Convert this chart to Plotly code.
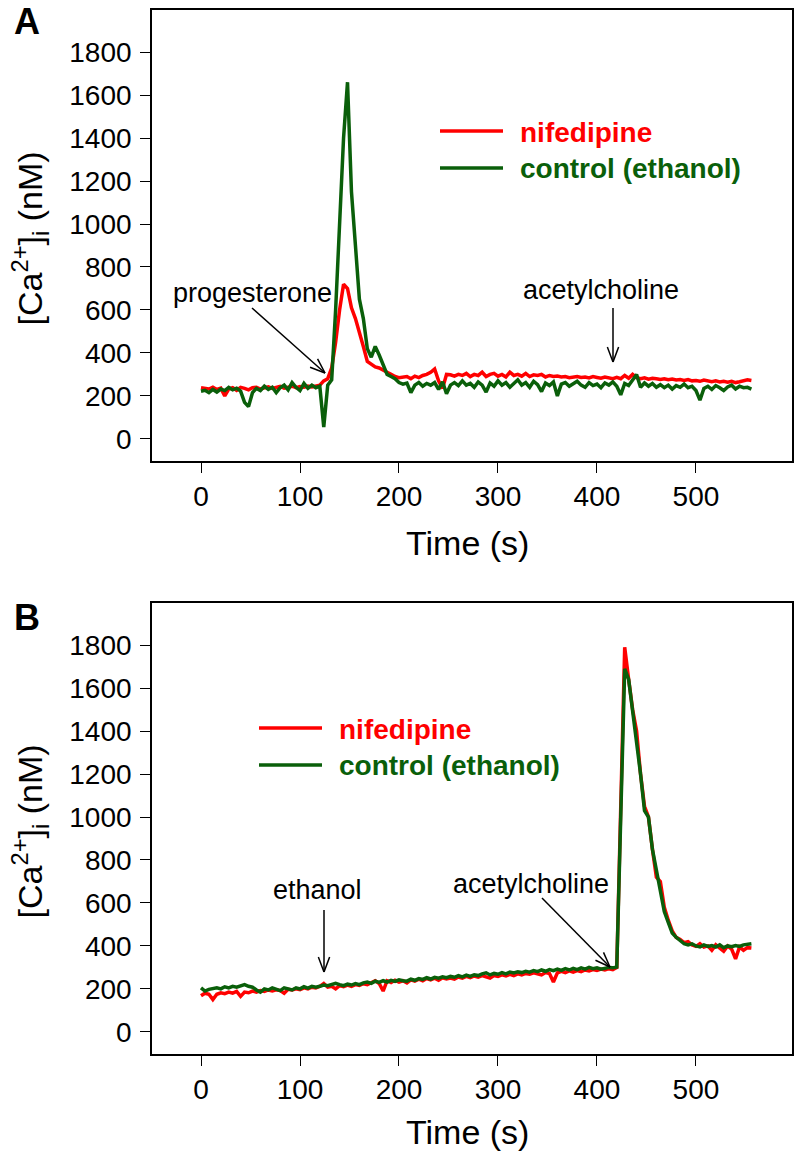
import math
import plotly.graph_objects as go

W, H = 796, 1154

# ---------------- data ----------------
step_s = 4  # sampling interval of the traces (s)

a_nifedipine = [238, 236, 232, 240, 230, 236, 200, 232, 238, 226, 240, 235, 228, 238, 240, 232,
                236, 242, 235, 238, 244, 236, 240, 245, 238, 244, 240, 246, 242, 248, 250, 270,
                280, 330, 450, 600, 720, 700, 610, 560, 500, 430, 360, 345, 335, 330, 318, 310,
                300, 290, 285, 288, 290, 280, 292, 285, 295, 300, 310, 325, 270, 235, 300, 298,
                292, 300, 295, 305, 290, 300, 295, 310, 290, 300, 305, 292, 300, 288, 310, 295,
                300, 292, 305, 290, 298, 295, 300, 288, 295, 290, 292, 288, 290, 285, 288, 290,
                286, 288, 284, 290, 286, 282, 288, 284, 280, 286, 280, 295, 282, 300, 285, 280,
                284, 278, 282, 280, 276, 280, 275, 278, 274, 276, 272, 276, 270, 272, 268, 274,
                270, 266, 270, 265, 268, 264, 268, 262, 266, 270, 275, 272]

a_control = [222, 226, 215, 230, 218, 232, 225, 240, 228, 236, 222, 170, 150, 215, 235, 225,
             245, 230, 240, 215, 238, 250, 228, 262, 240, 225, 258, 235, 250, 238, 245, 55,
             250, 275, 600, 980, 1400, 1660, 1150, 900, 650, 560, 420, 380, 430, 390, 340, 300,
             290, 280, 262, 255, 260, 215, 250, 262, 245, 258, 250, 262, 230, 265, 210, 250,
             262, 248, 270, 250, 258, 240, 265, 250, 218, 260, 245, 270, 250, 262, 240, 258,
             275, 250, 262, 240, 268, 252, 220, 260, 248, 265, 200, 255, 262, 245, 258, 268,
             250, 240, 262, 248, 255, 238, 260, 250, 265, 245, 205, 258, 248, 275, 300, 240,
             260, 245, 258, 240, 252, 238, 250, 232, 248, 240, 255, 238, 245, 225, 180, 235,
             245, 230, 248, 238, 225, 242, 250, 232, 245, 238, 240, 232]

b_nifedipine = [168, 180, 175, 150, 175, 182, 178, 185, 180, 188, 165, 185, 182, 190, 185, 192,
                188, 195, 190, 196, 192, 180, 198, 195, 200, 196, 205, 200, 208, 204, 212, 225,
                208, 212, 200, 215, 210, 218, 212, 220, 216, 224, 220, 230, 238, 225, 190, 238,
                230, 240, 232, 238, 228, 242, 236, 245, 238, 248, 242, 250, 240, 252, 246, 250,
                245, 255, 250, 258, 252, 260, 255, 262, 256, 250, 262, 258, 265, 260, 268, 262,
                270, 265, 272, 268, 275, 270, 265, 276, 272, 232, 275, 282, 276, 284, 278, 285,
                280, 288, 284, 290, 286, 292, 288, 294, 290, 300, 1100, 1790, 1640, 1500, 1400, 1200,
                1050, 1000, 850, 720, 700, 580, 520, 470, 440, 430, 415, 420, 405, 398, 410, 395,
                400, 380, 405, 390, 375, 400, 385, 340, 395, 380, 392, 390]

b_control = [205, 190, 198, 200, 205, 200, 210, 205, 212, 208, 215, 220, 212, 208, 195, 185,
             200, 195, 205, 198, 192, 205, 198, 195, 205, 200, 210, 204, 212, 208, 212, 218,
             215, 222, 226, 220, 215, 222, 218, 225, 220, 228, 232, 226, 236, 230, 238, 232,
             240, 235, 242, 238, 236, 245, 240, 248, 244, 252, 246, 254, 250, 256, 252, 258,
             254, 262, 256, 264, 258, 266, 262, 270, 275, 265, 272, 268, 276, 270, 278, 274,
             280, 276, 282, 278, 285, 280, 288, 282, 290, 285, 292, 286, 294, 288, 296, 290,
             298, 292, 300, 294, 298, 292, 296, 300, 298, 302, 1000, 1690, 1640, 1500, 1350, 1200,
             1030, 1000, 850, 750, 650, 560, 510, 460, 440, 425, 410, 405, 410, 400, 395, 405,
             398, 402, 395, 405, 392, 400, 396, 402, 398, 405, 408, 410]

series_names = ["nifedipine", "control (ethanol)"]
x_ticks = [0, 100, 200, 300, 400, 500]
y_ticks = [0, 200, 400, 600, 800, 1000, 1200, 1400, 1600, 1800]

RED = "#ff0000"
GREEN = "#0a5f0a"
FONT = "Liberation Sans, Arial, Helvetica, sans-serif"


def times(vals):
    return [step_s * i for i in range(len(vals))]


def px(x):
    return x / W


def py(y):
    return 1 - y / H


fig = go.Figure()
for vals, col, xa, ya in [(a_nifedipine, RED, "x", "y"), (a_control, GREEN, "x", "y"),
                          (b_nifedipine, RED, "x2", "y2"), (b_control, GREEN, "x2", "y2")]:
    fig.add_trace(go.Scatter(x=times(vals), y=vals, mode="lines", xaxis=xa, yaxis=ya,
                             line=dict(color=col, width=3.5), showlegend=False))

# panel geometry in pixels
panels = [dict(top=10, bottom=461, title_y=543), dict(top=603, bottom=1054, title_y=1132)]
left, right = 152, 792

axis_common = dict(showline=True, linecolor="black", linewidth=1.6, mirror=True,
                   ticks="outside", ticklen=10, tickwidth=1.4, tickcolor="black",
                   showgrid=False, zeroline=False,
                   tickfont=dict(family=FONT, size=28, color="black"))

layout = dict(width=W, height=H, margin=dict(l=0, r=0, t=0, b=0),
              plot_bgcolor="white", paper_bgcolor="white", font=dict(family=FONT))
for i, p in enumerate(panels):
    sfx = "" if i == 0 else "2"
    layout["xaxis" + sfx] = dict(axis_common, domain=[px(left), px(right)], range=[-49.5, 597],
                                 tickvals=x_ticks, anchor="y" + sfx, ticklabelstandoff=0)
    layout["yaxis" + sfx] = dict(axis_common, domain=[py(p["bottom"]), py(p["top"])],
                                 range=[-103, 1996], tickvals=y_ticks, anchor="x" + sfx,
                                 ticklabelstandoff=3)
fig.update_layout(**layout)

annotations = []
shapes = []


def text(x, y, s, size=27, color="black", bold=False, xanchor="center", angle=0):
    if bold:
        s = "<b>" + s + "</b>"
    annotations.append(dict(x=px(x), y=py(y), xref="paper", yref="paper", text=s,
                            showarrow=False, xanchor=xanchor, yanchor="middle", textangle=angle,
                            font=dict(family=FONT, size=size, color=color)))


def line(x0, y0, x1, y1, color="black", width=1.5):
    shapes.append(dict(type="line", xref="paper", yref="paper", x0=px(x0), y0=py(y0),
                       x1=px(x1), y1=py(y1), line=dict(color=color, width=width)))


def arrow(x0, y0, x1, y1, head=16, spread=0.36):
    line(x0, y0, x1, y1)
    ang = math.atan2(y1 - y0, x1 - x0)
    for s in (-spread, spread):
        a = ang + math.pi + s
        line(x1, y1, x1 + head * math.cos(a), y1 + head * math.sin(a))


# panel labels
text(27, 22, "A", size=36, bold=True)
text(27, 617, "B", size=36, bold=True)

# axis titles
ytitle = "[Ca<sup>2+</sup>]<sub>i</sub> (nM)"
for p in panels:
    text(467, p["title_y"], "Time (s)", size=34)
    text(29, (p["top"] + p["bottom"]) / 2 + 3, ytitle, size=34, angle=-90)

# legends
for (lx, ly) in [(440, 131), (259, 728)]:
    for k, (name, col) in enumerate(zip(series_names, [RED, GREEN])):
        yy = ly + k * 37
        line(lx, yy, lx + 63, yy, color=col, width=3.5)
        text(lx + 78, yy + 1, name, size=28, color=col, bold=True, xanchor="left")

# event annotations
text(252, 293, "progesterone", size=27)
arrow(252, 308, 325, 373)
text(601, 290, "acetylcholine", size=27)
arrow(613, 308, 613, 362)
text(317, 890, "ethanol", size=27)
arrow(324, 910, 324, 972)
text(531, 884, "acetylcholine", size=27)
arrow(542, 898, 610, 967)

fig.update_layout(annotations=annotations, shapes=shapes)
fig.write_html("out.html", config={"displayModeBar": False},
               post_script="document.body.style.margin='0';document.body.style.overflow='hidden';")
